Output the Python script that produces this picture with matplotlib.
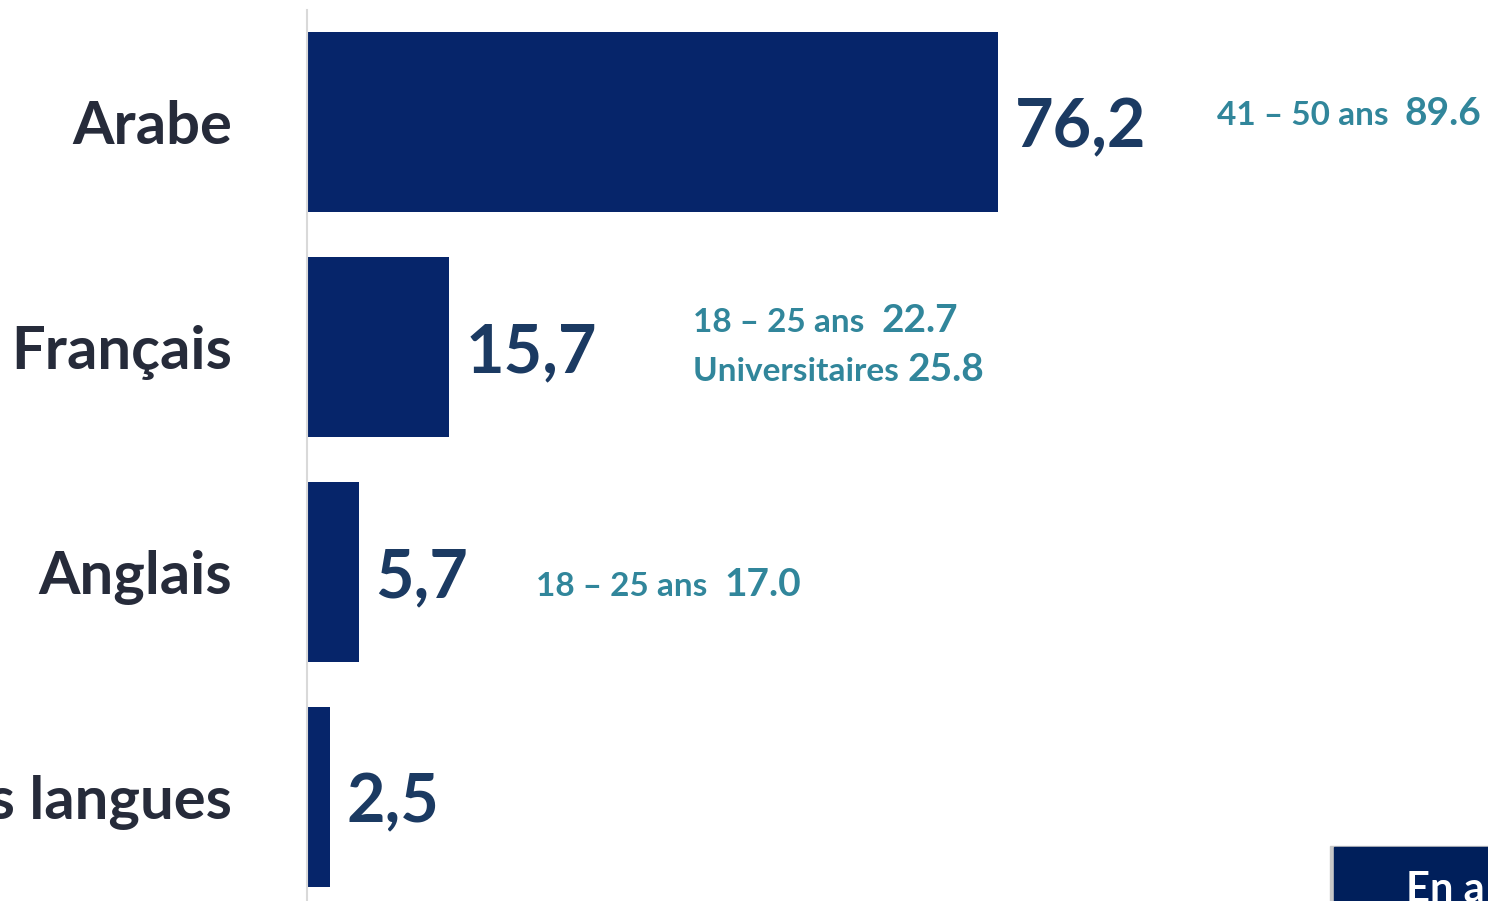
import matplotlib
matplotlib.use('Agg')
import matplotlib.pyplot as plt
from matplotlib.patches import Rectangle

langues = ['Arabe', 'Français', 'Anglais', 'Autres langues']
valeurs = [76.2, 15.7, 5.7, 2.5]
etiquettes = ['76,2', '15,7', '5,7', '2,5']

# notes de détail (groupe, valeur) par langue
notes_groupes = [['41 – 50 ans  '], ['18 – 25 ans  ', 'Universitaires '], ['18 – 25 ans  '], []]
notes_valeurs = [['89.6'], ['22.7', '25.8'], ['17.0'], []]

bleu = '#06256A'
bleu_txt = '#1B3A62'
gris_txt = '#262B3A'
sarcelle = '#31869B'
police = 'Lato'

fig = plt.figure(figsize=(14.88, 9.01), dpi=100)
W, H = 1488, 901
ax = fig.add_axes([307 / W, 0, (W - 307) / W, (H - 10) / H])

pos = list(range(len(langues)))
ax.barh(pos, valeurs, height=0.8, color=bleu)
ax.set_xlim(0, 130.2)
ax.set_ylim(3.462, -0.498)

for s in ['top', 'right', 'bottom']:
    ax.spines[s].set_visible(False)
ax.spines['left'].set_color('#D9D9D9')
ax.spines['left'].set_linewidth(1.5)
ax.set_xticks([])
ax.set_yticks(pos)
ax.set_yticklabels(langues, fontsize=43, fontweight='bold', color=gris_txt, family=police)
ax.tick_params(axis='y', length=0, pad=54)

for i, (v, t) in enumerate(zip(valeurs, etiquettes)):
    ax.text(v + 1.8, i + 0.03, t, fontsize=48, fontweight='bold', color=bleu_txt,
            family=police, va='center', ha='left')

# positions des notes (x, y en unités de données)
notes_x = [100.3, 42.6, 25.3, 0]
notes_y = [[0.013], [0.934, 1.152], [2.106], []]
for i, (gs, vs) in enumerate(zip(notes_groupes, notes_valeurs)):
    for k, (g, v) in enumerate(zip(gs, vs)):
        y = notes_y[i][k]
        tg = ax.text(notes_x[i], y, g, fontsize=24, fontweight='bold', color=sarcelle,
                     family=police, va='baseline', ha='left')
        fig.canvas.draw()
        bb = tg.get_window_extent().transformed(ax.transData.inverted())
        ax.text(bb.x1, y, v, fontsize=28, fontweight='bold', color=sarcelle,
                family=police, va='baseline', ha='left')

# encadré en bas à droite (coupé)
fig.patches.append(Rectangle((1330 / W, 0), 160 / W, 55 / H, transform=fig.transFigure,
                             color='#C8C8C8', zorder=1))
fig.patches.append(Rectangle((1334 / W, 0), 160 / W, 54 / H, transform=fig.transFigure,
                             color='#001F5B', zorder=2))
fig.text(1406 / W, -8 / H, 'En a', fontsize=30, fontweight='bold', color='white',
         family=police, va='bottom', ha='left')

fig.savefig('out.png', dpi=100)
